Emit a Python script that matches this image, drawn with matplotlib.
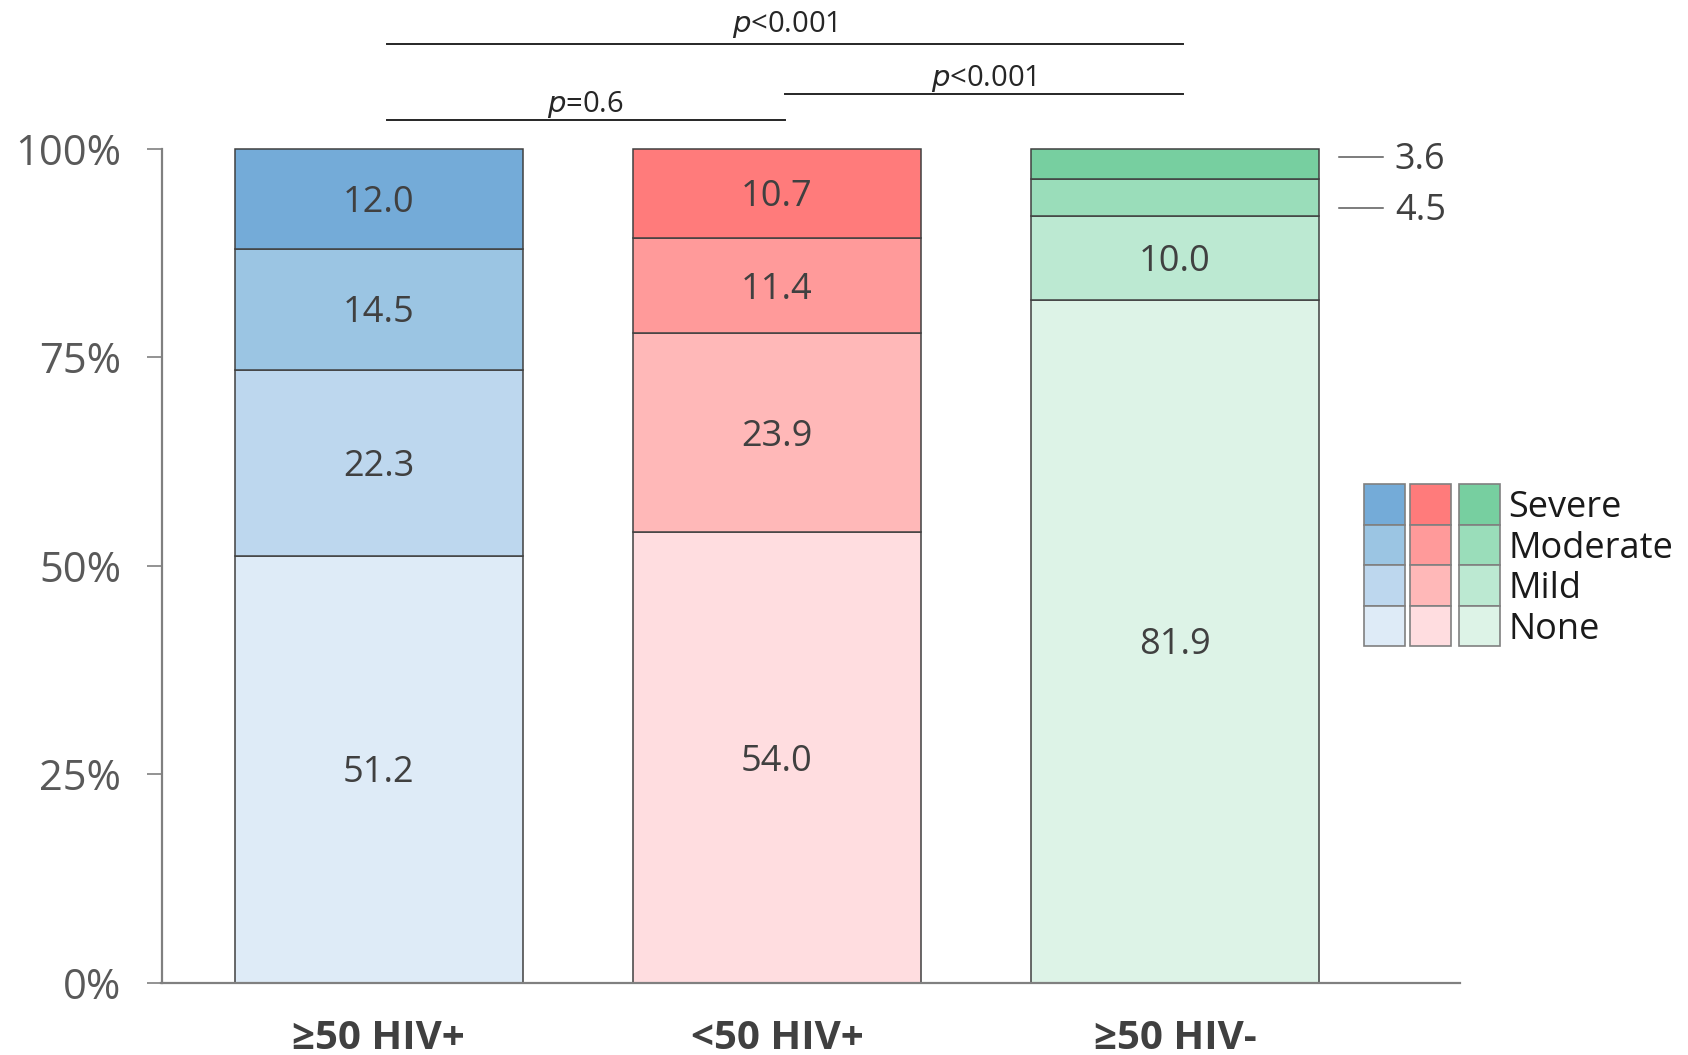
import matplotlib
matplotlib.use("Agg")
import matplotlib.pyplot as plt
from matplotlib.patches import Rectangle

plt.rcParams['font.family'] = ['Open Sans', 'DejaVu Sans']

# Groups and severity shares (%), stacked bottom to top: None, Mild, Moderate, Severe
groups = ["≥50 HIV+", "<50 HIV+", "≥50 HIV-"]
levels = ["None", "Mild", "Moderate", "Severe"]
none_vals = [51.2, 54.0, 81.9]
mild_vals = [22.3, 23.9, 10.0]
moderate_vals = [14.5, 11.4, 4.5]
severe_vals = [12.0, 10.7, 3.6]

# One colour ramp per group (None -> Severe)
blue_ramp = ["#DEEBF7", "#BDD7EE", "#9BC5E3", "#74ABD8"]
red_ramp = ["#FFDDE0", "#FFB8B8", "#FF9A9A", "#FF7B7B"]
green_ramp = ["#DDF3E7", "#BCE9D2", "#9ADDBA", "#77CFA0"]

yticks = [0, 25, 50, 75, 100]
ytick_labels = ["0%", "25%", "50%", "75%", "100%"]

# Pairwise comparisons: (group i, group j, label)
comparisons = [(0, 2, "<0.001"), (0, 1, "=0.6"), (1, 2, "<0.001")]

W, H = 1688, 1055
fig = plt.figure(figsize=(W / 100, H / 100), dpi=100)
ax = fig.add_axes([161.5 / W, 72.1 / H, (1460 - 161.5) / W, (982.9 - 148.6) / H])

series = [none_vals, mild_vals, moderate_vals, severe_vals]
ramps = [blue_ramp, red_ramp, green_ramp]
bar_w = 0.725
edge = "#404040"
label_color = "#404040"

for gi in range(len(groups)):
    bottom = 0.0
    for li, vals in enumerate(series):
        v = vals[gi]
        ax.bar(gi, v, width=bar_w, bottom=bottom, color=ramps[gi][li],
               edgecolor=edge, linewidth=1.1, clip_on=False, zorder=3)
        if v >= 8:
            ax.text(gi, bottom + v / 2 - 0.5, f"{v:.1f}", ha="center", va="center",
                    fontsize=26, color=label_color, zorder=4)
        bottom += v

# Small top segments of the last bar are labelled outside with leader lines
x_lead0, x_lead1 = 2.0 + bar_w / 2 + 0.05, 2.0 + bar_w / 2 + 0.16
for v, ypos in [(severe_vals[2], 99.0), (moderate_vals[2], 92.9)]:
    ax.plot([x_lead0, x_lead1], [ypos, ypos], color="#595959", lw=1.1,
            clip_on=False)
    ax.text(x_lead1 + 0.03, ypos - 0.4, f"{v:.1f}", ha="left", va="center",
            fontsize=26, color=label_color, clip_on=False)

ax.set_xlim(-0.546, 2.716)
ax.set_ylim(0, 100)
ax.set_yticks(yticks)
ax.set_yticklabels(ytick_labels, fontsize=30, color="#595959")
ax.tick_params(axis="y", direction="out", length=11, width=1.2, color="#808080", pad=18)
ax.set_xticks(range(len(groups)))
ax.set_xticklabels([])
ax.tick_params(axis="x", length=0)
for s in ["top", "right"]:
    ax.spines[s].set_visible(False)
for s in ["left", "bottom"]:
    ax.spines[s].set_color("#808080")
    ax.spines[s].set_linewidth(1.6)
ax.spines["bottom"].set_zorder(5)

# Group labels below the axis
for gi, g in enumerate(groups):
    fig.text((161.5 + (gi + 0.546) / 3.262 * (1460 - 161.5)) / W, 6 / H, g,
             ha="center", va="baseline", fontsize=29, fontweight="bold",
             color="#404040")

# Significance brackets
bracket_y = [112.5, 103.4, 106.5]
text_y = [114.9, 105.3, 108.4]
for (i, j, lab), by, ty in zip(comparisons, bracket_y, text_y):
    x0 = i + 0.02
    x1 = j + 0.02
    ax.plot([x0, x1], [by, by], color="#262626", lw=1.4, clip_on=False)
    ax.text((x0 + x1) / 2, ty, r"$\it{p}$" + lab, ha="center", va="center",
            fontsize=21, color="#262626", clip_on=False)

# Legend: three colour columns with shared level labels
cell_w, cell_h = 41, 40.5
col_x = [1364, 1410, 1459]
top_y = 484
for ci, ramp in enumerate(ramps):
    for ri, lvl in enumerate(reversed(levels)):
        color = ramp[len(levels) - 1 - ri]
        y_top = top_y + ri * cell_h
        fig.patches.append(Rectangle((col_x[ci] / W, 1 - (y_top + cell_h) / H),
                                     cell_w / W, cell_h / H, transform=fig.transFigure,
                                     facecolor=color, edgecolor="#808080", lw=1.2))
for ri, lvl in enumerate(reversed(levels)):
    y_c = top_y + ri * cell_h + cell_h / 2 + 4
    fig.text(1508 / W, 1 - y_c / H, lvl, ha="left", va="center", fontsize=26,
             color="#1a1a1a")

fig.savefig("out.png", dpi=100)
